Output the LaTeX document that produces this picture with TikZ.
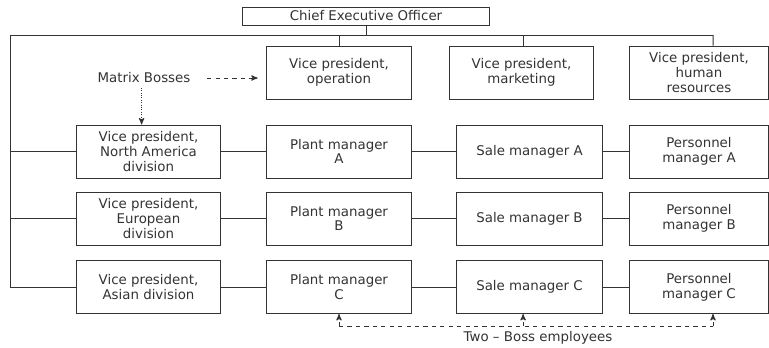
\documentclass[tikz,border=0pt]{standalone}
\usepackage{fontspec}
\setmainfont{DejaVu Sans}
\usetikzlibrary{arrows,positioning}
\definecolor{ink}{HTML}{333333}
\tikzset{
    %Define standard arrow tip
    >=stealth',
    %Define style for boxes
    unit/.style={
           rectangle,
           draw=ink, line width=0.7pt,
           minimum width=3.6cm,
           minimum height=1.325cm,
           inner sep=1pt,
           font=\fontsize{9.5}{10.5}\selectfont,
           text=ink,
           align=center,
           },
    label/.style={
           font=\fontsize{9.5}{10.5}\selectfont,
           text=ink,
           inner sep=1pt,
           },
    % Define arrow styles
    matrixpil/.style={
           ->,
           ink, line width=0.7pt,
           },
}

\begin{document}
\begin{tikzpicture}[x=0.025cm,y=-0.025cm,line width=0.7pt,draw=ink]
\useasboundingbox (0,0) rectangle (769,348);
% top level
\node[unit, minimum width=6.15cm, minimum height=0.45cm](ceo) at (366,16){Chief Executive Officer};
\node[unit](vpo) at (339,72.5){Vice president,\\operation};
\node[unit, minimum width=3.575cm](vpm) at (521.5,72.5){Vice president,\\marketing};
\node[unit, minimum width=3.45cm](vph) at (699,72.5){Vice president,\\human\\resources};
% divisions
\node[unit, minimum width=3.575cm](vpn) at (148.5,151.5){Vice president,\\North America\\division};
\node[unit, minimum width=3.575cm](vpe) at (148.5,218.5){Vice president,\\European\\division};
\node[unit, minimum width=3.575cm](vpa) at (148.5,287){Vice president,\\Asian division};
% managers
\node[unit](pa) at (339,151.5){Plant manager\\A};
\node[unit](pb) at (339,218.5){Plant manager\\B};
\node[unit](pc) at (339,287){Plant manager\\C};
\node[unit, minimum width=3.625cm](sa) at (529.5,151.5){Sale manager A};
\node[unit, minimum width=3.625cm](sb) at (529.5,218.5){Sale manager B};
\node[unit, minimum width=3.625cm](sc) at (529.5,287){Sale manager C};
\node[unit, minimum width=3.45cm](pma) at (699,151.5){Personnel\\manager A};
\node[unit, minimum width=3.45cm](pmb) at (699,218.5){Personnel\\manager B};
\node[unit, minimum width=3.45cm](pmc) at (699,287){Personnel\\manager C};
% labels
\node[label](mb) at (144,78){Matrix Bosses};
\node[label](tb) at (538,338){Two -- Boss employees};

% tree lines
\coordinate (busl) at (10,35);
\coordinate (busr) at (713,35);
\coordinate (low) at (0,326);
\draw (busl) -- (busr);
\draw (ceo.south) -- (ceo.south |- busl);
\draw (vpo.north) -- (vpo.north |- busl);
\draw ([xshift=0.04cm]vpm.north) -- ([xshift=0.04cm]vpm.north |- busl);
\draw ([xshift=0.35cm]vph.north) -- (busr);
\draw (busl) |- (vpn.west);
\draw (busl) |- (vpe.west);
\draw (busl) |- (vpa.west);
\path
	(vpn) edge (pa) (pa) edge (sa) (sa) edge (pma)
	(vpe) edge (pb) (pb) edge (sb) (sb) edge (pmb)
	(vpa) edge (pc) (pc) edge (sc) (sc) edge (pmc);

% matrix bosses
\draw[matrixpil, dashed, shorten <=0.37cm, shorten >=0.22cm] (mb.east) -- (mb.east -| vpo.west);
\draw[matrixpil, densely dotted, shorten <=2pt] ([xshift=-0.06cm]mb.south) -- ([xshift=-0.06cm]mb.south |- vpn.north);

% two-boss employees
\draw[dashed] (pc.south |- low) -- ([xshift=0.35cm]pmc.south |- low);
\draw[matrixpil, dashed] (pc.south |- low) -- (pc.south);
\draw[matrixpil, dashed] ([xshift=-0.16cm]sc.south |- low) -- ([xshift=-0.16cm]sc.south);
\draw[matrixpil, dashed] ([xshift=0.35cm]pmc.south |- low) -- ([xshift=0.35cm]pmc.south);
\end{tikzpicture}
\end{document}
